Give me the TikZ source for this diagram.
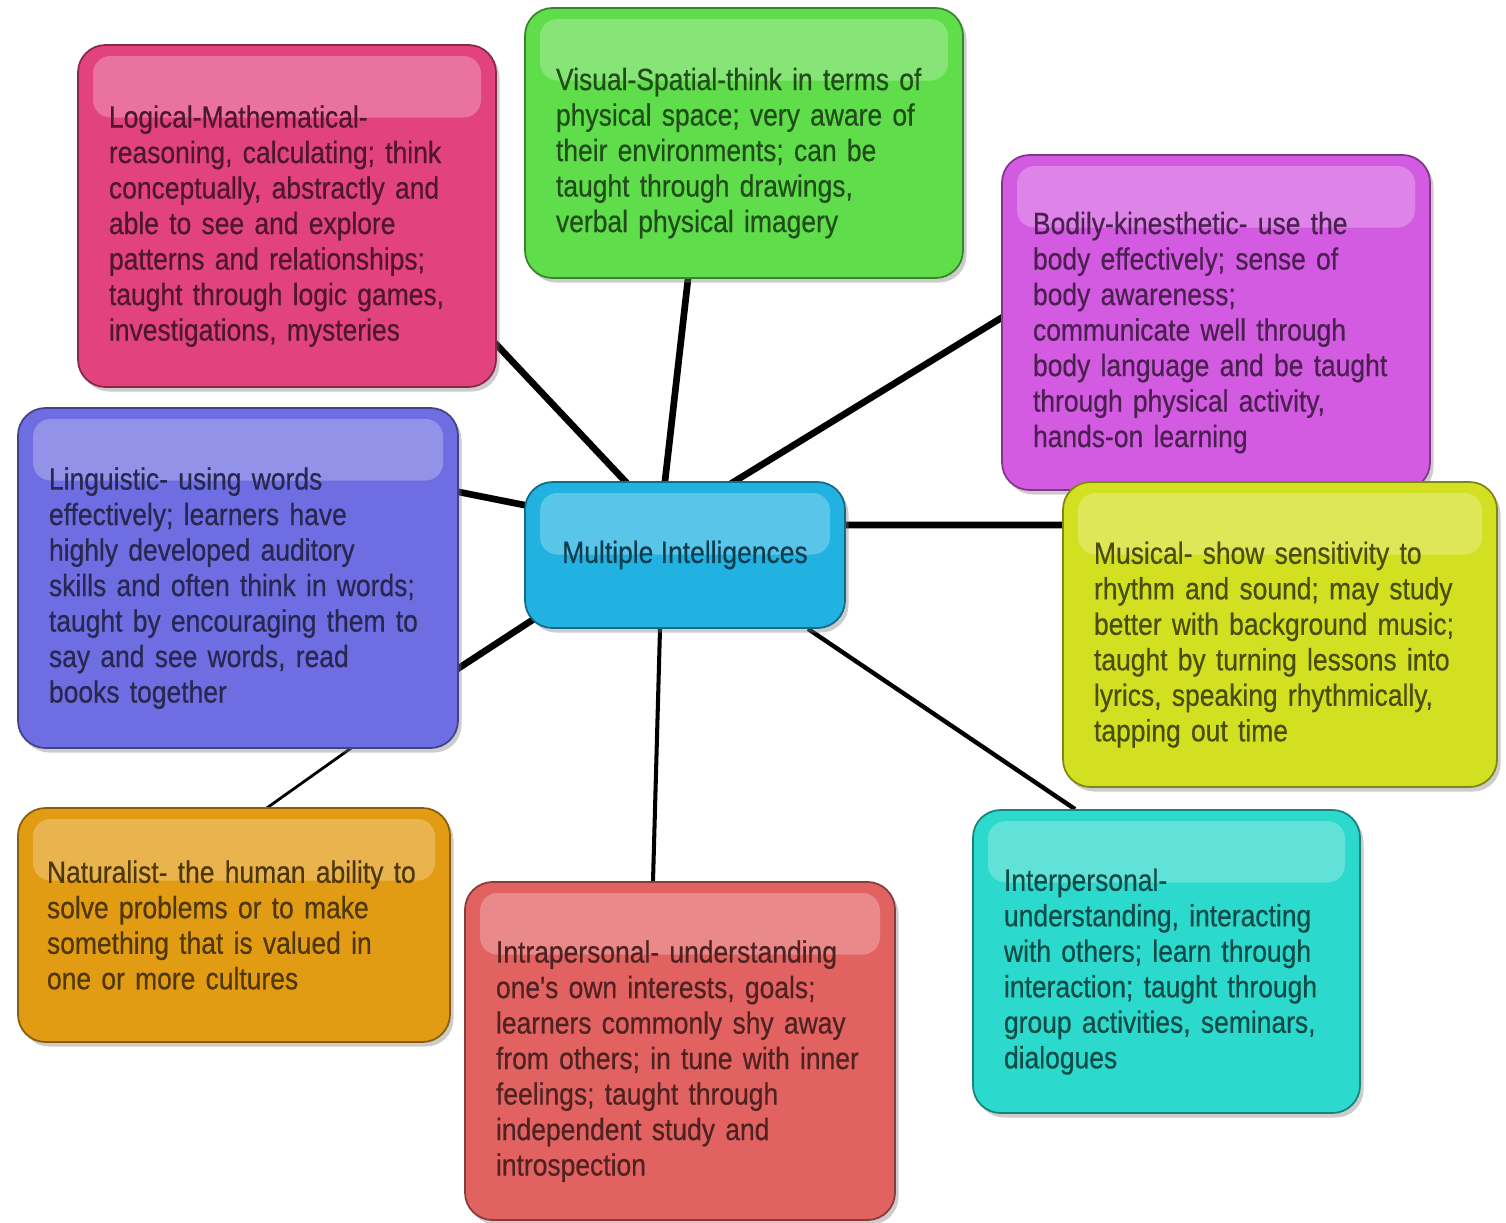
\documentclass[tikz,border=0pt]{standalone}
\usepackage{fontspec}
\newfontfamily\mifont{Liberation Sans}[FakeStretch=0.86,FakeBold=0.5]
\usetikzlibrary{shadows,backgrounds}
\definecolor{logicpink}{HTML}{E2437F}
\definecolor{visualgreen}{HTML}{5FDD4A}
\definecolor{bodilyviolet}{HTML}{D35BE2}
\definecolor{lingblue}{HTML}{6E6EE2}
\definecolor{micyan}{HTML}{22B2E2}
\definecolor{musicyellow}{HTML}{D3E021}
\definecolor{naturorange}{HTML}{E29C14}
\definecolor{intrared}{HTML}{E26262}
\definecolor{interteal}{HTML}{2BD9CD}
\tikzset{
  mibox/.style={rounded corners=0.55cm, draw=#1!60!black, line width=1pt, fill=#1, text=#1!35!black,
    drop shadow={shadow xshift=0.07cm, shadow yshift=-0.09cm, opacity=0.4},
    inner xsep=0.62cm, align=left,
    font=\mifont\fontsize{17.5pt}{20.2pt}\selectfont,
    path picture={\fill[white,opacity=0.25,rounded corners=0.35cm]
      ([xshift=0.3cm,yshift=-0.22cm]path picture bounding box.north west) rectangle
      ([xshift=-0.3cm,yshift=-1.45cm]path picture bounding box.north east);}},
  desc/.style={mibox=#1, execute at begin node={\hyphenpenalty=10000\relax\vskip0.14cm\relax}},
  link/.style={line width=3.8pt, shorten <=-3pt, shorten >=-3pt},
  thinlink/.style={line width=1.6pt, shorten <=-3pt, shorten >=-3pt},
}
\begin{document}
\begin{tikzpicture}
\useasboundingbox (0,0) rectangle (30.12,-24.44);
% boxes
\node[desc=logicpink, minimum width=8.36cm, minimum height=6.84cm, text width=7.12cm] (logic) at (5.74,-4.32)
  {Logical-Mathematical-\\ reasoning, calculating; think\\ conceptually, abstractly and\\ able to see and explore\\ patterns and relationships;\\ taught through logic games,\\ investigations, mysteries};
\node[desc=visualgreen, minimum width=8.76cm, minimum height=5.40cm, text width=7.52cm] (visual) at (14.88,-2.86)
  {Visual-Spatial-think in terms of\\ physical space; very aware of\\ their environments; can be\\ taught through drawings,\\ verbal physical imagery};
\node[desc=bodilyviolet, minimum width=8.56cm, minimum height=6.70cm, text width=7.32cm] (bodily) at (24.32,-6.45)
  {Bodily-kinesthetic- use the\\ body effectively; sense of\\ body awareness;\\ communicate well through\\ body language and be taught\\ through physical activity,\\ hands-on learning};
\node[desc=lingblue, minimum width=8.80cm, minimum height=6.80cm, text width=7.56cm] (ling) at (4.76,-11.56)
  {Linguistic- using words\\ effectively; learners have\\ highly developed auditory\\ skills and often think in words;\\ taught by encouraging them to\\ say and see words, read\\ books together};
\node[mibox=micyan, minimum width=6.40cm, minimum height=2.92cm, align=center] (mi) at (13.70,-11.10)
  {Multiple Intelligences};
\node[desc=musicyellow, minimum width=8.68cm, minimum height=6.10cm, text width=7.44cm] (music) at (25.60,-12.69)
  {Musical- show sensitivity to\\ rhythm and sound; may study\\ better with background music;\\ taught by turning lessons into\\ lyrics, speaking rhythmically,\\ tapping out time};
\node[mibox=naturorange, minimum width=8.64cm, minimum height=4.68cm, text width=7.48cm, inner xsep=0.58cm,
  execute at begin node={\hyphenpenalty=10000\relax}] (nature) at (4.68,-18.50)
  {Naturalist- the human ability to\\ solve problems or to make\\ something that is valued in\\ one or more cultures};
\node[desc=intrared, minimum width=8.60cm, minimum height=6.76cm, text width=7.36cm] (intra) at (13.60,-21.02)
  {Intrapersonal- understanding\\ one's own interests, goals;\\ learners commonly shy away\\ from others; in tune with inner\\ feelings; taught through\\ independent study and\\ introspection};
\node[desc=interteal, minimum width=7.74cm, minimum height=6.06cm, text width=6.50cm] (inter) at (23.33,-19.23)
  {Interpersonal-\\ understanding, interacting\\ with others; learn through\\ interaction; taught through\\ group activities, seminars,\\ dialogues};
% connectors, behind the boxes
\begin{scope}[on background layer]
\fill[white] (0,0) rectangle (30.12,-24.44);
\draw[link] ([yshift=-2.58cm]logic.east) -- ([xshift=-1.2cm]mi.north);
\draw[link] ([xshift=-1.12cm]visual.south) -- ([xshift=-0.4cm]mi.north);
\draw[link] ([yshift=0.09cm]bodily.west) -- ([xshift=1.0cm]mi.north);
\draw[link] ([yshift=1.72cm]ling.east) -- ([yshift=1.0cm]mi.west);
\draw[link] ([yshift=-1.8cm]ling.east) -- ([xshift=0.2cm,yshift=0.2cm]mi.south west);
\draw[link] ([yshift=0.6cm]mi.east) -- ([yshift=2.19cm]music.west);
\draw[thinlink] ([xshift=2.24cm]ling.south) -- ([xshift=0.68cm]nature.north);
\draw[line width=2.3pt] ([xshift=-0.5cm]mi.south) -- ([xshift=-0.54cm]intra.north);
\draw[line width=2.5pt] ([xshift=2.46cm]mi.south) -- ([xshift=-1.83cm]inter.north);
\end{scope}
\end{tikzpicture}
\end{document}
